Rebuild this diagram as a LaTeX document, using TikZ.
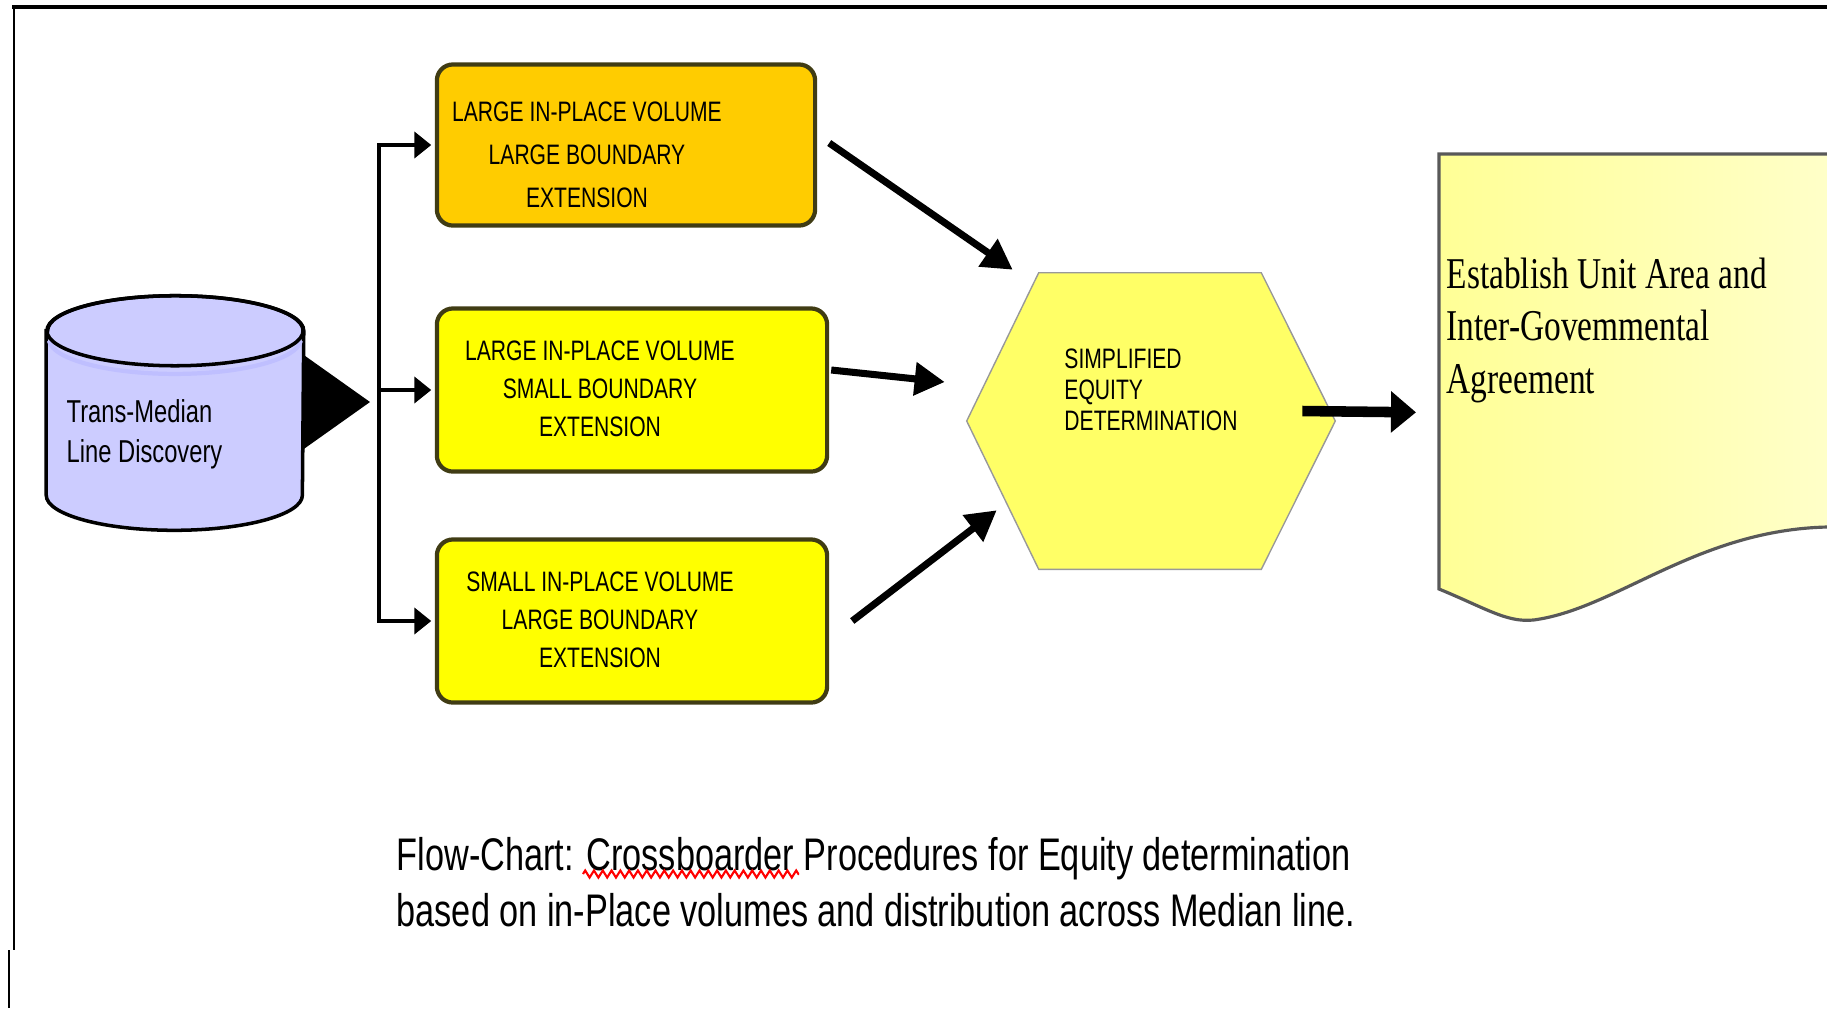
\documentclass[tikz,border=0pt]{standalone}
\usepackage{fontspec}
\setmainfont{Liberation Serif}
\newfontfamily\boxfont[FakeStretch=0.75]{Liberation Sans}
\newfontfamily\notefont[FakeStretch=0.76]{Liberation Serif}
\usepackage{tikz}
\usetikzlibrary{shapes.geometric, arrows.meta, positioning, calc, decorations.pathmorphing}

\definecolor{discblue}{RGB}{204,204,255}
\definecolor{boxorange}{RGB}{255,204,0}
\definecolor{boxyellow}{RGB}{255,255,0}
\definecolor{hexyellow}{RGB}{255,255,102}
\definecolor{notelight}{RGB}{255,255,150}
\definecolor{notepale}{RGB}{255,255,200}
\definecolor{boxedge}{RGB}{64,60,20}

\begin{document}
\begin{tikzpicture}[x=0.01cm, y=-0.01cm,
  volbox/.style={draw=boxedge, line width=1.2pt, rounded corners=0.16cm, minimum width=3.9cm, minimum height=1.63cm},
  boxtext/.style={font=\boxfont\fontsize{8}{10.8}\selectfont, align=center, inner sep=0pt},
  flow/.style={line width=2pt, -{Triangle[length=0.3cm, width=0.32cm]}},
  busarrow/.style={line width=1.4pt, -{Triangle[length=0.17cm, width=0.26cm]}, shorten >=1pt},
]
\useasboundingbox (0,0) rectangle (1827,1008);

% Frame
\draw[line width=1.1pt] (12,7) -- (1827,7);
\draw[line width=0.8pt] (14,7) -- (14,950);
\draw[line width=0.8pt] (9,950) -- (9,1008);

% Discovery cylinder
\node[minimum width=2.56cm, minimum height=2.33cm, inner sep=0pt] (disc) at (175,413) {};
\coordinate (disctop) at ($(disc.north)+(0,35)$);
\draw[fill=discblue, line width=1pt] ($(disc.north west)+(0,35)$) -- ($(disc.south west)+(0,-35)$)
  arc[start angle=180, end angle=360, x radius=1.28cm, y radius=0.35cm] -- ($(disc.north east)+(0,35)$)
  arc[start angle=0, end angle=180, x radius=1.28cm, y radius=0.35cm] -- cycle;
\draw[blue!25, line width=1.2pt] ($(disctop)+(-126,10)$) arc[start angle=183, end angle=357, x radius=1.26cm, y radius=0.35cm];
\draw[line width=1pt] (disctop) ellipse[x radius=1.28cm, y radius=0.35cm];
\node[font=\boxfont\fontsize{9}{11.3}\selectfont, align=left, anchor=west, inner sep=0pt] (disctext) at (66,434) {Trans-Median\\Line Discovery};

% Split to the three cases
\coordinate (split) at (379,400);
\fill ($(disc.east)+(0,-58)$) -- ($(split)+(-9,2)$) -- ($(disc.east)+(0,36)$) -- cycle;

% Case boxes
\node[volbox, fill=boxorange, minimum width=3.78cm, minimum height=1.61cm] (box1) at (626,145) {};
\node[volbox, fill=boxyellow] (box2) at (632,390) {};
\node[volbox, fill=boxyellow] (box3) at (632,621) {};

\node[boxtext, font=\boxfont\fontsize{8}{12.2}\selectfont] (box1text) at ($(box1.center)+(-39,10)$) {LARGE IN-PLACE  VOLUME\\LARGE BOUNDARY\\EXTENSION};
\node[boxtext] (box2text) at ($(box2.center)+(-32,-1)$) {LARGE IN-PLACE  VOLUME\\SMALL BOUNDARY\\EXTENSION};
\node[boxtext] (box3text) at ($(box3.center)+(-32,-1)$) {SMALL IN-PLACE VOLUME\\LARGE BOUNDARY\\EXTENSION};

\draw[busarrow] (split) |- (box1.west);
\draw[busarrow] (split) |- (box2.west);
\draw[busarrow] (split) |- (box3.west);

% Equity hexagon
\node[minimum width=3.67cm, minimum height=2.95cm, inner sep=0pt] (equity) at (1151,421) {};
\draw[fill=hexyellow, draw=gray!80] ($(equity.north west)+(72,0)$) -- ($(equity.north east)+(-74,0)$) -- (equity.east)
  -- ($(equity.south east)+(-74,0)$) -- ($(equity.south west)+(72,0)$) -- (equity.west) -- cycle;
\node[font=\boxfont\fontsize{8}{8.9}\selectfont, align=left, inner sep=0pt] (equitytext) at ($(equity.center)+(0,-31)$) {SIMPLIFIED\\EQUITY\\DETERMINATION};

\draw[flow] ($(box1.east)+(12,-2)$) -- ($(equity.north west)+(46,-3)$);
\draw[flow] ($(box2.east)+(2,-20)$) -- ($(equity.west)+(-22,-39)$);
\draw[flow] ($(box3.east)+(23,0)$) -- ($(equity.south west)+(30,-59)$);

% Agreement document
\node[minimum width=3.88cm, minimum height=4.35cm, anchor=north west, inner sep=0pt] (agree) at (1439,154) {};
\fill[left color=notelight, right color=notepale] (1439,589) -- (1439,154) -- (1827,154) -- (1827,527)
  .. controls (1700,530) and (1620,605) .. (1540,619) .. controls (1510,625) and (1490,610) .. (1439,589) -- cycle;
\draw[gray!70!black, line width=0.9pt] (1827,527) .. controls (1700,530) and (1620,605) .. (1540,619)
  .. controls (1510,625) and (1490,610) .. (1439,589) -- (1439,154) -- (1827,154);
\node[font=\notefont\fontsize{12.5}{15}\selectfont, align=left, anchor=north west, inner sep=0pt] (agreetext) at (1446,257)
  {Establish Unit Area and\\Inter-Govemmental\\Agreement};

\draw[line width=3pt, -{Triangle[length=0.25cm, width=0.4cm]}] ($(equity.east)+(-33,-10)$) -- ($(agree.west)+(-23,40)$);

% Caption
\node[font=\boxfont\fontsize{13}{16}\selectfont, align=left, anchor=west, inner sep=0pt] (caption) at (396,882)
  {Flow-Chart: Crossboarder Procedures for Equity determination\\based on in-Place volumes and distribution across Median line.};
\draw[red, line width=0.6pt, decorate, decoration={zigzag, segment length=2.5pt, amplitude=1pt}] (583,874) -- (799,874);

\end{tikzpicture}
\end{document}
